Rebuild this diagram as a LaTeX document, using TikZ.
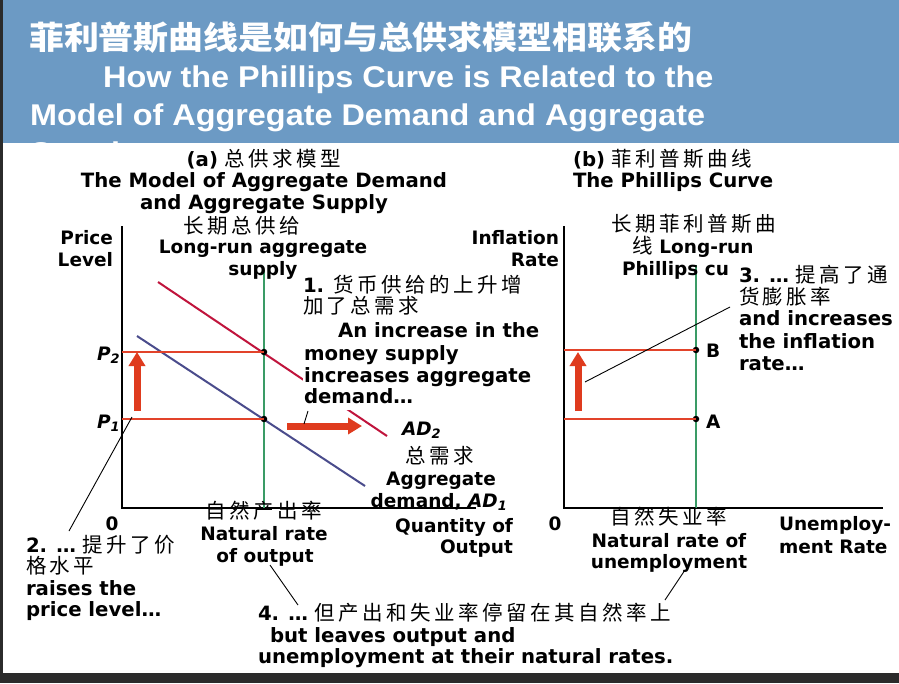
\documentclass[tikz,border=0pt]{standalone}
\usepackage{fontspec}
\usepackage{graphicx}
\setmainfont{DejaVu Sans}
\newfontfamily\cjk{Noto Sans CJK SC}[LetterSpace=17]
\newfontfamily\cjktitle{Noto Sans CJK SC}
\newfontfamily\titlefont{Liberation Sans}
\usetikzlibrary{arrows.meta}
\newcommand\zh[1]{{\cjk\mdseries\fontsize{20.5}{22}\selectfont #1}}

\definecolor{bar}{HTML}{6C9AC4}
\definecolor{edgegray}{HTML}{2B2B2B}
\definecolor{levelred}{HTML}{E2432A}
\definecolor{arrowred}{HTML}{DF3B1E}
\definecolor{adtwo}{HTML}{C0143C}
\definecolor{adone}{HTML}{4A4C8C}
\definecolor{lrgreen}{HTML}{3A9B66}

\begin{document}
\begin{tikzpicture}[x=1pt,y=-1pt,
  txt/.style={font=\fontsize{18.5}{22}\selectfont\bfseries, inner sep=0pt, outer sep=0pt},
  note/.style={font=\fontsize{19.7}{23}\selectfont\bfseries, inner sep=0pt, outer sep=0pt},
  cover/.style={note, fill=white, inner xsep=1pt, inner ysep=2pt, text height=14.5pt, text depth=4.5pt},
  ttl/.style={font=\titlefont\bfseries\fontsize{30}{36}\selectfont, text=white, inner sep=0pt, anchor=base west},
  axisline/.style={black, line width=1.4pt},
  level/.style={levelred, line width=2pt},
  lrline/.style={lrgreen, line width=2pt},
  bigarrow/.style={arrowred, line width=7pt, -{Triangle[width=16pt,length=14pt]}},
  leader/.style={black, line width=0.9pt},
  dot/.style={circle, fill=black, inner sep=0pt, minimum size=6.5pt}]

\useasboundingbox (0,0) rectangle (899,683);
\fill[white] (0,0) rectangle (899,683);

% title banner
\begin{scope}
  \clip (3,0) rectangle (899,143);
  \fill[bar] (3,0) rectangle (899,143);
  \node[ttl] (t1) at (29,49) {\scalebox{1.09}[1]{\cjktitle\bfseries\fontsize{32}{36}\selectfont 菲利普斯曲线是如何与总供求模型相联系的}};
  \node[ttl] (t2) at (103,87) {\scalebox{1.08}[1]{How the Phillips Curve is Related to the}};
  \node[ttl] (t3) at (30,125) {\scalebox{1.08}[1]{Model of Aggregate Demand and Aggregate}};
  \node[ttl] (t4) at (30,163) {\scalebox{1.08}[1]{Supply}};
\end{scope}

% frame edges
\fill[edgegray] (0,0) rectangle (3,683);
\fill[edgegray] (0,673) rectangle (899,683);

% ---------- panel (a): aggregate demand and supply ----------
\coordinate (yL) at (122,226);
\coordinate (oL) at (122,508);
\coordinate (xL) at (476,508);
\draw[axisline] (yL) -- (oL) -- (xL);

\coordinate (lrasTop) at (264,270);
\coordinate (lrasBot) at (264,508);
\draw[lrline] (lrasTop) -- (lrasBot);

\coordinate (adtwoA) at (158,282);
\coordinate (adtwoB) at (387,436);
\draw[adtwo, line width=2pt] (adtwoA) -- (adtwoB);
\coordinate (adoneA) at (137,336);
\coordinate (adoneB) at (365,486);
\draw[adone, line width=2pt] (adoneA) -- (adoneB);

\node[dot] (p2) at (264,352) {};
\node[dot] (p1) at (264,419) {};
\coordinate (p2axis) at (122,352);
\coordinate (p1axis) at (122,419);
\draw[level] (p2axis) -- (p2.center);
\draw[level] (p1axis) -- (p1.center);

\coordinate (upLa) at (137,411);
\coordinate (upLb) at (137,352);
\draw[bigarrow] (upLa) -- (upLb);
\coordinate (shiftA) at (287,426);
\coordinate (shiftB) at (362,426);
\draw[bigarrow] (shiftA) -- (shiftB);

\node[note, anchor=base] (ha1) at (264,166) {(a) \zh{总供求模型}};
\node[note, anchor=base] (ha2) at (264,187) {The Model of Aggregate Demand};
\node[note, anchor=base] (ha3) at (264,209) {and Aggregate Supply};
\node[txt, anchor=base] (lras1) at (242,233) {\zh{长期总供给}};
\node[txt, anchor=base] (lras2) at (263,253) {Long-run aggregate};
\node[txt, anchor=base] (lras3) at (263,275) {supply};
\node[txt, anchor=base east] (pl1) at (113,244) {Price};
\node[txt, anchor=base east] (pl2) at (113,266) {Level};
\node[txt, anchor=base west] (P2) at (97,360) {\itshape P\textsubscript{2}};
\node[txt, anchor=base west] (P1) at (97,428) {\itshape P\textsubscript{1}};

\node[note, anchor=base west] (n1a) at (303,292) {1. \zh{货币供给的上升增}};
\node[note, anchor=base west] (n1b) at (303,313) {\zh{加了总需求}};
\node[note, anchor=base west] (n1c) at (338,337) {An increase in the};
\node[cover, anchor=base west] (n1d) at (303,360) {money supply};
\node[cover, anchor=base west] (n1e) at (303,382) {increases aggregate};
\node[cover, anchor=base west] (n1f) at (303,403) {demand…};
\coordinate (n1tip) at (304,424);
\draw[leader] (308,411) -- (n1tip);

\node[txt, anchor=base west] (ad2) at (402,435) {\itshape AD\textsubscript{2}};
\node[txt, anchor=base] (ad1a) at (440,463) {\zh{总需求}};
\node[txt, anchor=base] (ad1b) at (441,485) {Aggregate};
\node[txt, anchor=base] (ad1c) at (439,507) {demand, {\itshape AD\textsubscript{1}}};

\node[txt, anchor=base] (zeroL) at (112,530) {0};
\node[txt, anchor=base] (nr1) at (264,518) {\zh{自然产出率}};
\node[txt, anchor=base] (nr2) at (264,540) {Natural rate};
\node[txt, anchor=base] (nr3) at (265,562) {of output};
\node[txt, anchor=base east] (qo1) at (513,532) {Quantity of};
\node[txt, anchor=base east] (qo2) at (513,553) {Output};

\node[note, anchor=base west] (s2a) at (26,552) {2. … \zh{提升了价}};
\node[note, anchor=base west] (s2b) at (26,573) {\zh{格水平}};
\node[note, anchor=base west] (s2c) at (26,595) {raises the};
\node[note, anchor=base west] (s2d) at (26,616) {price level…};
\coordinate (s2end) at (132,417);
\coordinate (s2start) at (69,531);
\draw[leader] (s2start) -- (s2end);

% ---------- panel (b): Phillips curve ----------
\coordinate (yR) at (564,226);
\coordinate (oR) at (564,508);
\coordinate (xR) at (883,508);
\draw[axisline] (yR) -- (oR) -- (xR);

\coordinate (lrpcTop) at (696,265);
\coordinate (lrpcBot) at (696,508);
\draw[lrline] (lrpcTop) -- (lrpcBot);

\node[dot] (ptB) at (696,350) {};
\node[dot] (ptA) at (696,419) {};
\coordinate (Baxis) at (564,350);
\coordinate (Aaxis) at (564,419);
\draw[level] (Baxis) -- (ptB.center);
\draw[level] (Aaxis) -- (ptA.center);

\coordinate (upRa) at (578,411);
\coordinate (upRb) at (578,352);
\draw[bigarrow] (upRa) -- (upRb);

\node[note, anchor=base west] (hb1) at (573,166) {(b) \zh{菲利普斯曲线}};
\node[note, anchor=base west] (hb2) at (573,187) {The Phillips Curve};
\node[txt, anchor=base east] (ir1) at (559,244) {Inflation};
\node[txt, anchor=base east] (ir2) at (559,266) {Rate};
\node[txt, anchor=base] (lp1) at (694,231) {\zh{长期菲利普斯曲}};
\node[txt, anchor=base] (lp2) at (693,253) {\zh{线} Long-run};
\node[txt, anchor=base west] (lp3) at (622,275) {Phillips cu};

\node[note, anchor=base west] (n3a) at (739,282) {3. … \zh{提高了通}};
\node[note, anchor=base west] (n3b) at (739,304) {\zh{货膨胀率}};
\node[note, anchor=base west] (n3c) at (739,325) {and increases};
\node[note, anchor=base west] (n3d) at (739,348) {the inflation};
\node[note, anchor=base west] (n3e) at (739,370) {rate…};
\coordinate (n3tail) at (585,382);
\coordinate (n3head) at (730,307);
\draw[leader] (n3tail) -- (n3head);

\node[txt, anchor=base west] (labB) at (706,357) {B};
\node[txt, anchor=base west] (labA) at (706,428) {A};

\node[txt, anchor=base] (zeroR) at (555,530) {0};
\node[txt, anchor=base] (nu1) at (669,524) {\zh{自然失业率}};
\node[txt, anchor=base] (nu2) at (669,547) {Natural rate of};
\node[txt, anchor=base] (nu3) at (669,568) {unemployment};
\node[txt, anchor=base west] (ur1) at (779,530) {Unemploy-};
\node[txt, anchor=base west] (ur2) at (779,553) {ment Rate};

% ---------- note 4 ----------
\node[note, anchor=base west] (n4a) at (258,620) {4. … \zh{但产出和失业率停留在其自然率上}};
\node[note, anchor=base west] (n4b) at (270,642) {but leaves output and};
\node[note, anchor=base west] (n4c) at (258,663) {unemployment at their natural rates.};
\coordinate (n4l1) at (270,565);
\coordinate (n4l2) at (298,605);
\draw[leader] (n4l1) -- (n4l2);
\coordinate (n4r1) at (685,570);
\coordinate (n4r2) at (665,600);
\draw[leader] (n4r1) -- (n4r2);

\end{tikzpicture}
\end{document}
